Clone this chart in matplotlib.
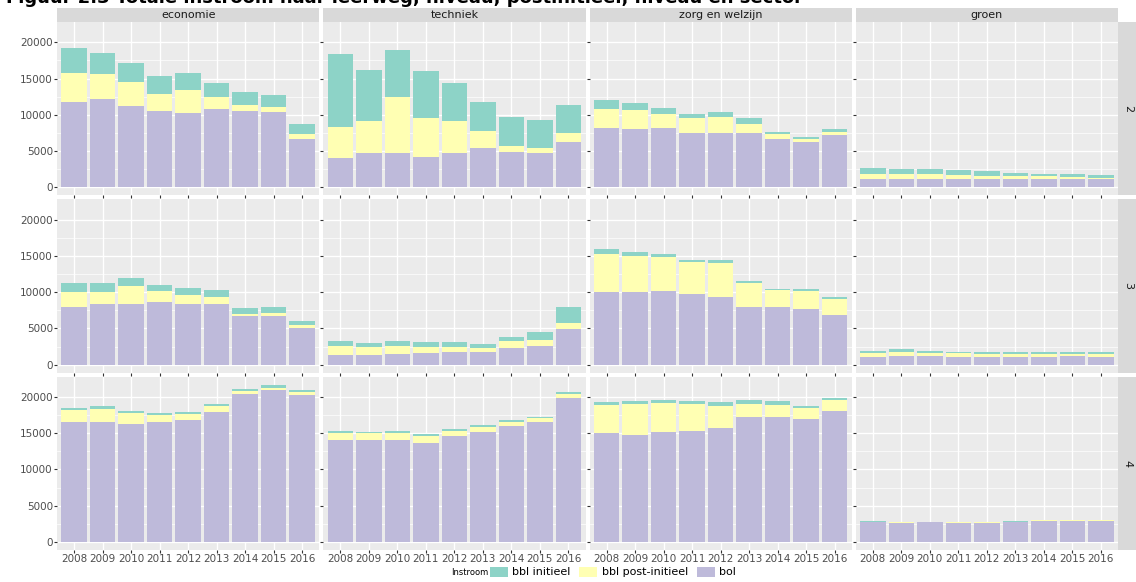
import matplotlib
matplotlib.use("Agg")
import matplotlib.pyplot as plt
import numpy as np

years = [2008,2009,2010,2011,2012,2013,2014,2015,2016]
sectors = ["economie","techniek","zorg en welzijn","groen"]
levels = ["2","3","4"]
# cumulative tops: total, bol+post, bol
total = {
("2","economie"):[19200,18500,17100,15300,15800,14400,13200,12800,8800],
("2","techniek"):[18400,16200,18900,16100,14400,11800,9700,9300,11400],
("2","zorg en welzijn"):[12000,11600,11000,10100,10400,9600,7700,7000,8100],
("2","groen"):[2600,2500,2500,2400,2200,2000,1900,1800,1700],
("3","economie"):[11200,11200,11900,11000,10600,10300,7800,8000,6000],
("3","techniek"):[3200,3000,3200,3100,3100,2800,3800,4500,8000],
("3","zorg en welzijn"):[16000,15600,15300,14500,14400,11600,10500,10500,9400],
("3","groen"):[1900,2200,1900,1800,1800,1800,1700,1800,1800],
("4","economie"):[18500,18700,18100,17800,17900,19100,21100,21700,21000],
("4","techniek"):[15300,15200,15300,14900,15600,16100,16800,17300,20700],
("4","zorg en welzijn"):[19300,19400,19600,19500,19300,19600,19400,18700,19800],
("4","groen"):[2900,2800,2800,2800,2800,2900,3100,3100,3100],
}
bol_post = {
("2","economie"):[15800,15600,14500,12900,13400,12400,11300,11100,7400],
("2","techniek"):[8300,9100,12400,9500,9100,7800,5700,5400,7500],
("2","zorg en welzijn"):[10800,10600,10100,9500,9700,8800,7400,6700,7700],
("2","groen"):[1800,1800,1800,1700,1600,1500,1500,1400,1300],
("3","economie"):[10000,10000,10900,10100,9600,9300,7000,7100,5500],
("3","techniek"):[2600,2400,2600,2500,2500,2300,3200,3400,5700],
("3","zorg en welzijn"):[15300,15000,14800,14100,14000,11300,10300,10200,9100],
("3","groen"):[1600,1800,1600,1600,1500,1500,1500,1500,1500],
("4","economie"):[18200,18400,17800,17500,17600,18700,20800,21300,20700],
("4","techniek"):[15100,15000,15000,14600,15300,15800,16600,17100,20400],
("4","zorg en welzijn"):[18900,19000,19200,19100,18800,19100,18900,18500,19600],
("4","groen"):[2800,2700,2700,2700,2700,2800,3000,3000,3000],
}
bol = {
("2","economie"):[11800,12200,11200,10500,10200,10800,10500,10400,6700],
("2","techniek"):[4000,4700,4700,4200,4800,5400,4900,4700,6300],
("2","zorg en welzijn"):[8200,8100,8200,7500,7500,7500,6700,6300,7200],
("2","groen"):[1100,1100,1200,1100,1200,1200,1200,1200,1100],
("3","economie"):[8000,8400,8300,8600,8400,8300,6700,6700,5100],
("3","techniek"):[1300,1400,1500,1600,1700,1700,2300,2600,4900],
("3","zorg en welzijn"):[10000,10000,10200,9800,9300,8000,7900,7700,6800],
("3","groen"):[1100,1200,1200,1100,1100,1100,1100,1200,1100],
("4","economie"):[16600,16600,16300,16500,16800,17900,20400,20900,20300],
("4","techniek"):[14000,14100,14000,13700,14600,15200,16000,16600,19800],
("4","zorg en welzijn"):[15000,14800,15200,15300,15700,17200,17300,17000,18000],
("4","groen"):[2700,2600,2700,2600,2600,2800,2900,2900,2900],
}
C_INIT, C_POST, C_BOL = "#8DD3C7", "#FFFFB3", "#BEBADA"

fig = plt.figure(figsize=(11.36,5.82), dpi=100)
L, R, T, B = 57/1136, 1118/1136, 1-22/582, 1-550/582
gapx, gapy = 4/1136, 4/582
pw = (R-L-3*gapx)/4; ph = (T-B-2*gapy)/3
x = np.arange(len(years))
for r, lv in enumerate(levels):
    for c, s in enumerate(sectors):
        ax = fig.add_axes([L+c*(pw+gapx), T-(r+1)*ph-r*gapy, pw, ph])
        ax.set_facecolor("#EBEBEB")
        b = np.array(bol[(lv,s)]); bp = np.array(bol_post[(lv,s)]); t = np.array(total[(lv,s)])
        ax.bar(x, b, 0.9, color=C_BOL, zorder=2)
        ax.bar(x, bp-b, 0.9, bottom=b, color=C_POST, zorder=2)
        ax.bar(x, t-bp, 0.9, bottom=bp, color=C_INIT, zorder=2)
        ax.set_xlim(-0.6, 8.6); ax.set_ylim(-1100, 22800)
        ax.set_yticks([0,5000,10000,15000,20000])
        ax.set_yticks([2500,7500,12500,17500], minor=True)
        ax.set_xticks(x)
        ax.grid(True, which="major", color="white", lw=1.0, zorder=0)
        ax.grid(True, which="minor", axis="y", color="white", lw=0.5, zorder=0)
        for sp in ax.spines.values(): sp.set_visible(False)
        ax.tick_params(length=2, color="#333333", labelsize=7.5, labelcolor="#4D4D4D", pad=1)
        ax.tick_params(which="minor", length=0)
        if c == 0:
            ax.set_yticklabels(["0","5000","10000","15000","20000"])
        else:
            ax.set_yticklabels([])
        if r == 2:
            ax.set_xticklabels([str(y) for y in years], fontsize=7.5)
        else:
            ax.set_xticklabels([])
        if r == 0:
            ax.add_patch(plt.Rectangle((0,1.0),1,0.08,transform=ax.transAxes,fc="#D9D9D9",ec="none",clip_on=False,zorder=0))
            ax.text(0.5, 1.04, s, transform=ax.transAxes, ha="center", va="center", fontsize=8, color="#1A1A1A")
        if c == 3:
            ax.add_patch(plt.Rectangle((1.0,0),0.075,1,transform=ax.transAxes,fc="#D9D9D9",ec="none",clip_on=False))
            ax.text(1.037, 0.5, lv, transform=ax.transAxes, rotation=-90, ha="center", va="center", fontsize=8, color="#1A1A1A")

fig.text(0.005, 1.003, "Figuur 2.3 Totale instroom naar leerweg, niveau, postinitieel, niveau en sector",
         fontsize=13, fontweight="bold", ha="left", va="center")
from matplotlib.patches import Patch
handles = [Patch(fc=C_INIT), Patch(fc=C_POST), Patch(fc=C_BOL)]
fig.text(488/1136, 0.017, "Instroom", fontsize=6, ha="right", va="center")
fig.legend(handles, ["bbl initieel","bbl post-initieel","bol"], loc="center left", bbox_to_anchor=(490/1136, 0.017),
           ncol=3, frameon=False, fontsize=8, handlelength=1.6, handleheight=1.0, columnspacing=0.8,
           handletextpad=0.4, borderpad=0, borderaxespad=0)
fig.savefig("out.png", dpi=100)
